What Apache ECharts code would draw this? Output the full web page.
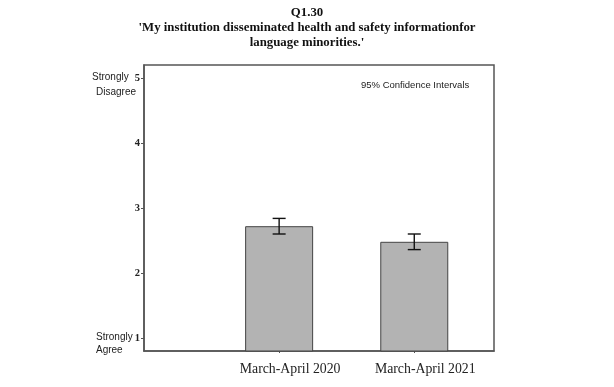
<!DOCTYPE html>
<html><head><meta charset="utf-8">
<script src="https://cdn.jsdelivr.net/npm/echarts@6/dist/echarts.min.js"></script>
<style>html,body{margin:0;padding:0;background:#fff}#c{width:614px;height:387px}</style>
</head><body><div id="c"></div>
<script>
var titleLines = ['Q1.30', "'My institution disseminated health and safety informationfor", "language minorities.'"];
var categories = ['March-April 2020', 'March-April 2021'];
var positions = [1, 2];
var means = [2.72, 2.48];
var lower = [2.60, 2.36];
var upper = [2.84, 2.60];
var yTicks = [1, 2, 3, 4, 5];

var chart = echarts.init(document.getElementById('c'));
var serif = '"Liberation Serif", "Times New Roman", serif';
var sans = '"Liberation Sans", Arial, sans-serif';

chart.setOption({
  animation: false,
  title: titleLines.map(function (t, i) {
    return {
      text: t, left: 'center', top: 1 + i * 15.3,
      textStyle: { fontFamily: serif, fontWeight: 'bold', fontSize: 12.8, color: '#111' }
    };
  }),
  grid: { left: 144, right: 120, top: 65, bottom: 36, show: true, borderColor: '#555', borderWidth: 1.5, backgroundColor: 'transparent' },
  xAxis: {
    type: 'value', min: 0, max: 2.59,
    axisLine: { show: true, lineStyle: { color: '#555', width: 1.5 } },
    axisTick: { show: true, customValues: positions, length: 2, lineStyle: { color: '#555' } },
    axisLabel: {
      customValues: positions,
      formatter: function (v) { var i = positions.indexOf(v); return i >= 0 ? categories[i] : ''; },
      fontFamily: serif, fontSize: 13.8, color: '#222', margin: 11, padding: [0, 0, 0, 22]
    },
    splitLine: { show: false }
  },
  yAxis: {
    type: 'value', min: 0.8, max: 5.2,
    axisLine: { show: true, lineStyle: { color: '#555', width: 1.5 } },
    axisTick: { show: true, customValues: yTicks, length: 3, lineStyle: { color: '#555' } },
    axisLabel: { customValues: yTicks, fontFamily: serif, fontWeight: 'bold', fontSize: 10.5, color: '#222', margin: 4 },
    splitLine: { show: false }
  },
  graphic: [
    { type: 'text', left: 361, top: 80, style: { text: '95% Confidence Intervals', font: '9.5px ' + sans, fill: '#222' } },
    { type: 'text', left: 92, top: 72, style: { text: 'Strongly', font: '10px ' + sans, fill: '#222' } },
    { type: 'text', left: 96, top: 87, style: { text: 'Disagree', font: '10px ' + sans, fill: '#222' } },
    { type: 'text', left: 96, top: 332, style: { text: 'Strongly', font: '10px ' + sans, fill: '#222' } },
    { type: 'text', left: 96, top: 345, style: { text: 'Agree', font: '10px ' + sans, fill: '#222' } }
  ],
  series: [
    {
      type: 'bar', barWidth: 68,
      data: positions.map(function (p, i) { return [p, means[i]]; }),
      itemStyle: { color: '#b3b3b3', borderColor: '#444', borderWidth: 1 },
      z: 2
    },
    {
      type: 'custom', z: 5,
      data: positions.map(function (p, i) { return [p, lower[i], upper[i]]; }),
      renderItem: function (params, api) {
        var x = api.value(0);
        var lo = api.coord([x, api.value(1)]);
        var hi = api.coord([x, api.value(2)]);
        var hw = 6.5;
        var st = { stroke: '#111', lineWidth: 1.4 };
        return { type: 'group', children: [
          { type: 'line', shape: { x1: lo[0], y1: lo[1], x2: hi[0], y2: hi[1] }, style: st },
          { type: 'line', shape: { x1: lo[0] - hw, y1: lo[1], x2: lo[0] + hw, y2: lo[1] }, style: st },
          { type: 'line', shape: { x1: hi[0] - hw, y1: hi[1], x2: hi[0] + hw, y2: hi[1] }, style: st }
        ] };
      }
    }
  ]
});
</script></body></html>
